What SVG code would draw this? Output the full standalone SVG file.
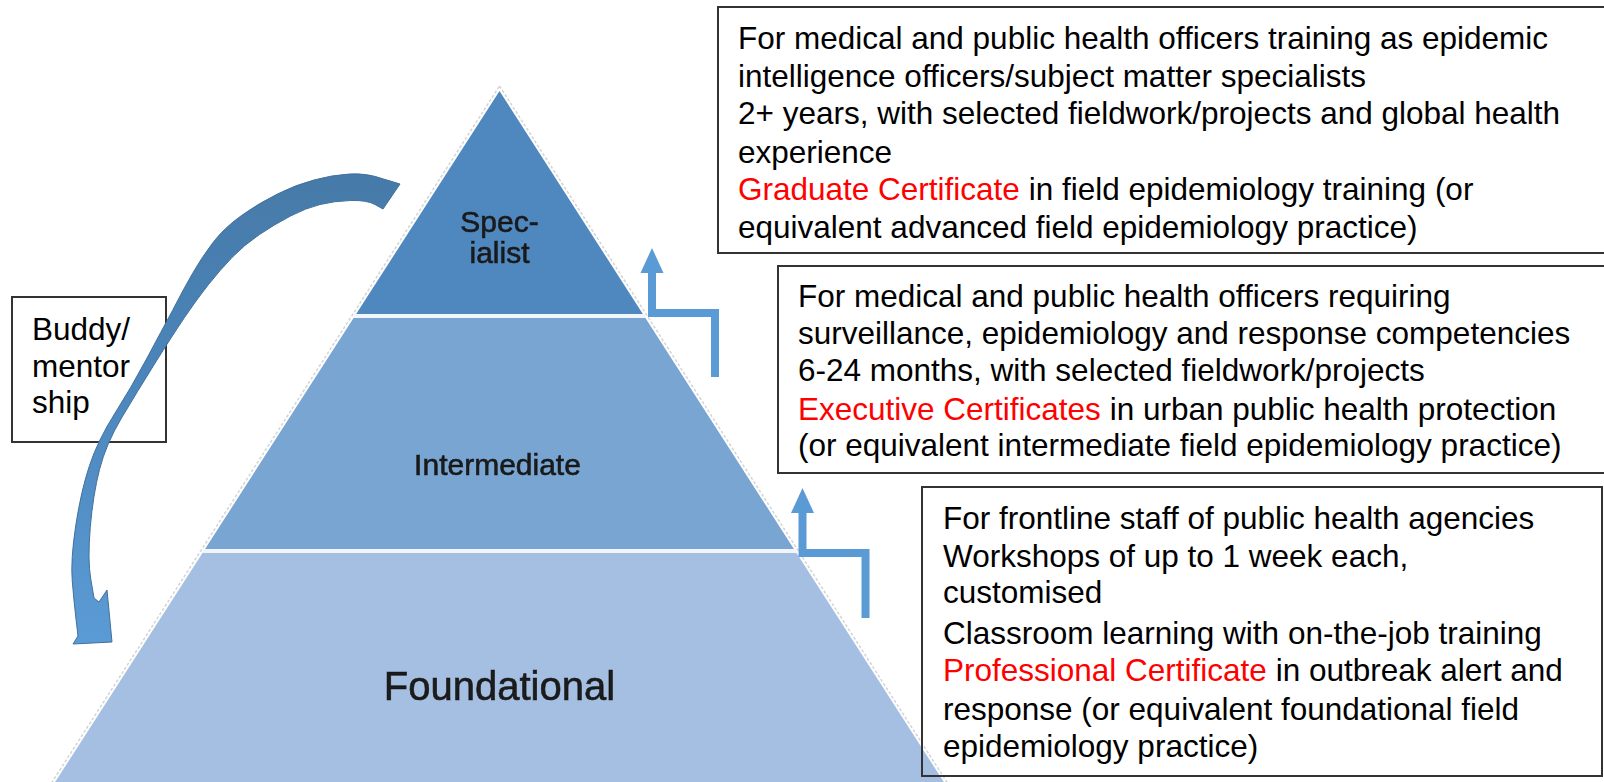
<svg xmlns="http://www.w3.org/2000/svg" width="1604" height="782" viewBox="0 0 1604 782">
<style>
.box{fill:none;stroke:#333;stroke-width:2}
.t{font-family:"Liberation Sans",Arial,sans-serif;font-size:31.5px;fill:#000}
.red{fill:#ff0000}
.pt{font-family:"Liberation Sans",Arial,sans-serif;fill:#1a1a1a;stroke:#1a1a1a;stroke-width:0.6;text-anchor:middle;filter:url(#soft)}
.sep{stroke:#f2f6fb;stroke-width:4}
.step{fill:none;stroke:#5b9bd5;stroke-width:8;stroke-linejoin:miter}
.head{fill:#5b9bd5}
</style>
<defs>
<filter id="soft" x="-5%" y="-20%" width="110%" height="140%"><feGaussianBlur stdDeviation="0.7"/></filter>
<linearGradient id="curveGrad" gradientUnits="userSpaceOnUse" x1="0" y1="175" x2="0" y2="645">
<stop offset="0" stop-color="#467aa8"/>
<stop offset="0.4" stop-color="#4b84b9"/>
<stop offset="1" stop-color="#5b9bd5"/>
</linearGradient>
</defs>
<rect width="1604" height="782" fill="#fff"/>

<g id="pyramid-outline">
<polygon points="499.5,86 952,790 47,790" fill="none" stroke="#d4d4d4" stroke-width="1.5" stroke-dasharray="3 2"/>
</g>
<g id="tier-foundational">
<polygon points="204.4,550 794.6,550 949,790 50,790" fill="#a4bfe2"/>
<text class="pt" x="499.5" y="700" font-size="40">Foundational</text>
</g>
<g id="tier-intermediate">
<polygon points="355.5,315 643.5,315 794.6,550 204.4,550" fill="#79a5d3"/>
<text class="pt" x="497.5" y="475" font-size="30">Intermediate</text>
</g>
<g id="tier-specialist">
<polygon points="499.5,91 643.5,315 355.5,315" fill="#4f88bf"/>
<text class="pt" x="499.5" y="232" font-size="30">Spec-</text>
<text class="pt" x="499.5" y="263" font-size="30">ialist</text>
</g>
<g id="separators">
<line class="sep" x1="354" y1="316" x2="645" y2="316"/>
<line class="sep" x1="203" y1="551" x2="796" y2="551"/>
</g>

<g id="box-specialist">
<rect class="box" x="718" y="7" width="892" height="246"/>
<text class="t" x="738" y="48.5">For medical and public health officers training as epidemic</text>
<text class="t" x="738" y="86.5">intelligence officers/subject matter specialists</text>
<text class="t" x="738" y="124">2+ years, with selected fieldwork/projects and global health</text>
<text class="t" x="738" y="162.5">experience</text>
<text class="t" x="738" y="200"><tspan class="red">Graduate Certificate</tspan> in field epidemiology training (or</text>
<text class="t" x="738" y="238">equivalent advanced field epidemiology practice)</text>
</g>

<g id="box-intermediate">
<rect class="box" x="778" y="266" width="832" height="207"/>
<text class="t" x="798" y="307">For medical and public health officers requiring</text>
<text class="t" x="798" y="343.5">surveillance, epidemiology and response competencies</text>
<text class="t" x="798" y="380.5">6-24 months, with selected fieldwork/projects</text>
<text class="t" x="798" y="419.5"><tspan class="red">Executive Certificates</tspan> in urban public health protection</text>
<text class="t" x="798" y="456">(or equivalent intermediate field epidemiology practice)</text>
</g>

<g id="box-foundational">
<rect class="box" x="922" y="487" width="680" height="289"/>
<text class="t" x="943" y="529">For frontline staff of public health agencies</text>
<text class="t" x="943" y="567">Workshops of up to 1 week each,</text>
<text class="t" x="943" y="603">customised</text>
<text class="t" x="943" y="644">Classroom learning with on-the-job training</text>
<text class="t" x="943" y="681"><tspan class="red">Professional Certificate</tspan> in outbreak alert and</text>
<text class="t" x="943" y="720">response (or equivalent foundational field</text>
<text class="t" x="943" y="757">epidemiology practice)</text>
</g>

<g id="box-buddy">
<rect class="box" x="12" y="297" width="154" height="145"/>
<text class="t" x="32" y="340">Buddy/</text>
<text class="t" x="32" y="377">mentor</text>
<text class="t" x="32" y="413">ship</text>
</g>

<g id="connectors">
<path class="step" d="M652,270 V313 H715 V377"/>
<polygon class="head" points="640.5,273 663.5,273 652,248"/>
<path class="step" d="M802.5,510 V553 H865.5 V618"/>
<polygon class="head" points="791,513 814,513 802.5,488"/>
<path id="mentor-arrow" fill="url(#curveGrad)" stroke="#41719c" stroke-width="1" stroke-linejoin="round" d="M400,184 L383.5,179 Q367,173 349.5,174 Q332,175 314,180 Q295,185 277.5,194 Q259,203 241.5,215.5 Q224,228 213,242.5 Q202,257 192.5,273.5 Q183,290 172.5,310.5 Q162,330 146.5,359 Q131,388 114.5,414 Q98,440 89.5,465.5 Q81,491 75.75,525.5 Q70.5,560 72.25,581 Q74,602 76,619 L78,636 L73,644 L112,642 L107,590 L99,602 L94,598 L90.75,579 Q87.5,560 90.25,527.5 Q93,495 99.5,469.5 Q106,444 121.5,418 Q137,392 154.5,364 Q172,336 184.5,317.5 Q197,299 208.5,284.5 Q220,270 232,257.5 Q244,245 259.5,234.5 Q275,224 290.5,216 Q306,208 320,204.5 Q334,201 350.5,200.5 Q367,200 375,204.5 L383,209 Z"/>
</g>
</svg>
